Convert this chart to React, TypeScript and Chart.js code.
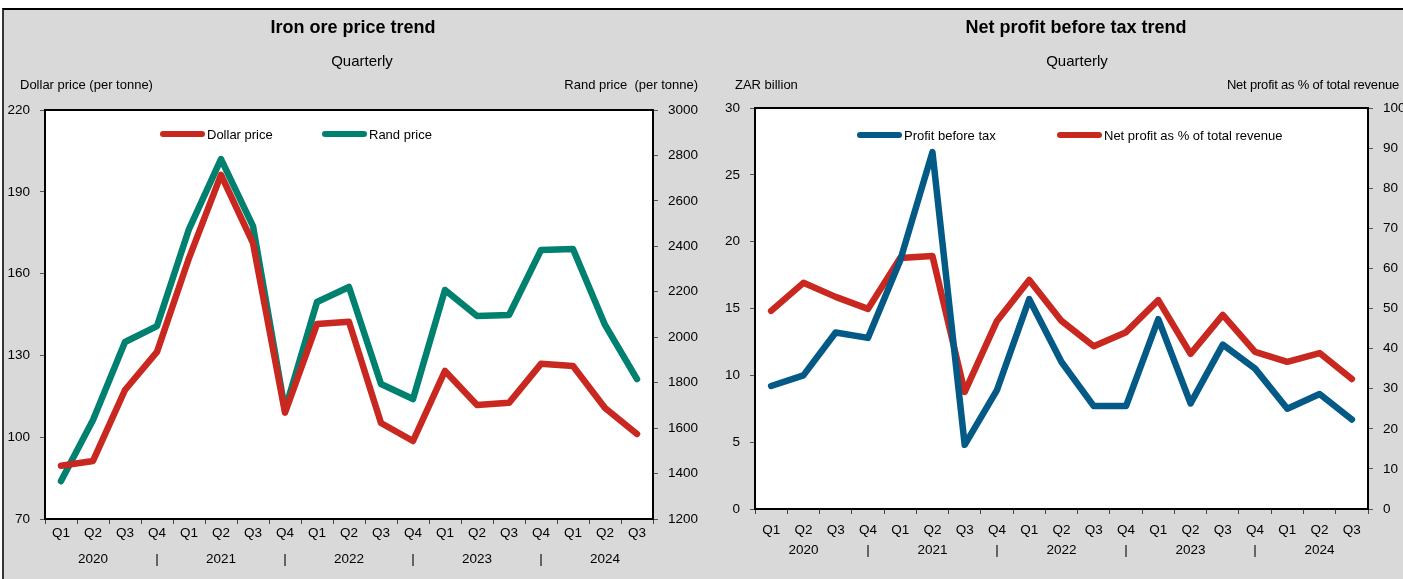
import React, { useEffect, useRef } from 'react';
import { Chart, registerables } from 'chart.js';
Chart.register(...registerables);

// ---- data ----
const quarterLabels = ['Q1', 'Q2', 'Q3', 'Q4', 'Q1', 'Q2', 'Q3', 'Q4', 'Q1', 'Q2', 'Q3', 'Q4', 'Q1', 'Q2', 'Q3', 'Q4', 'Q1', 'Q2', 'Q3'];
const yearLabels = ['', '2020', '', '|', '', '2021', '', '|', '', '2022', '', '|', '', '2023', '', '|', '', '2024', ''];

const dollarPrice = [89.5, 91.3, 117.3, 131.3, 165.7, 196.2, 171.2, 109, 141.5, 142.3, 105.2, 98.6, 124.3, 111.8, 112.6, 126.9, 126.1, 110.7, 101.2];
const randPrice = [1367, 1636, 1979, 2049, 2476, 2784, 2489, 1680, 2155, 2221, 1794, 1728, 2208, 2093, 2098, 2384, 2388, 2054, 1816];

const profitBeforeTax = [9.2, 10.0, 13.2, 12.8, 18.6, 26.7, 4.8, 8.9, 15.7, 11.0, 7.7, 7.7, 14.2, 7.9, 12.3, 10.5, 7.5, 8.6, 6.7];
const netProfitPct = [49.4, 56.4, 52.9, 49.9, 62.6, 63.1, 29.2, 46.9, 57.1, 46.9, 40.6, 44.1, 52.1, 38.7, 48.4, 39.2, 36.7, 38.9, 32.4];

const RED = '#C8281F';
const TEAL = '#00806F';
const BLUE = '#045A86';
const GRAY_BG = '#D9D9D9';
const FONT = '"Liberation Sans", Arial, sans-serif';

const frame = {
  id: 'frame',
  beforeDatasetsDraw(chart: any) {
    const { ctx, chartArea } = chart;
    const { left, top, right, bottom } = chartArea;
    ctx.save();
    ctx.fillStyle = '#ffffff';
    ctx.fillRect(left, top, right - left, bottom - top);
    ctx.restore();
  },
  afterDatasetsDraw(chart: any) {
    const { ctx, chartArea } = chart;
    const { left, top, right, bottom } = chartArea;
    ctx.save();
    ctx.strokeStyle = '#000000';
    ctx.lineWidth = 2;
    ctx.strokeRect(left, top, right - left, bottom - top);
    ctx.restore();
  },
};

type PanelCfg = {
  series: { label: string; data: number[]; color: string; axis: string }[];
  left: { min: number; max: number; step: number; width: number };
  right: { min: number; max: number; step: number; width: number };
  padTop: number;
  xHeight: number;
  xPad: number;
  xLineHeight: number;
};

function tickFont() {
  return { family: FONT, size: 13.5 };
}

function makeConfig(p: PanelCfg): any {
  const labels = quarterLabels.map((q, i) => [q, yearLabels[i]]);
  return {
    type: 'line',
    data: {
      labels,
      datasets: p.series.map((s) => ({
        label: s.label,
        data: s.data,
        borderColor: s.color,
        backgroundColor: s.color,
        borderWidth: 6.5,
        pointRadius: 0,
        tension: 0,
        borderCapStyle: 'round',
        borderJoinStyle: 'round',
        yAxisID: s.axis,
      })),
    },
    options: {
      responsive: false,
      animation: false,
      layout: { padding: { top: p.padTop, left: 0, right: 0, bottom: 0 } },
      plugins: { legend: { display: false }, tooltip: { enabled: false }, title: { display: false } },
      scales: {
        x: {
          type: 'category',
          offset: true,
          grid: { offset: true, drawOnChartArea: false, drawTicks: true, tickLength: 5, color: '#444', lineWidth: 1 },
          border: { display: false },
          ticks: {
            font: { family: FONT, size: 13.5, lineHeight: p.xLineHeight + 'px' },
            color: '#000',
            padding: p.xPad,
            maxRotation: 0,
            autoSkip: false,
          },
          afterFit: (scale: any) => { scale.height = p.xHeight; },
        },
        y: {
          position: 'left',
          min: p.left.min,
          max: p.left.max,
          ticks: { stepSize: p.left.step, font: tickFont(), color: '#000', padding: 10, callback: (v: any) => String(v) },
          grid: { drawOnChartArea: false, drawTicks: true, tickLength: 5, color: '#555' },
          border: { display: false },
          afterFit: (scale: any) => { scale.width = p.left.width; },
        },
        y1: {
          position: 'right',
          min: p.right.min,
          max: p.right.max,
          ticks: { stepSize: p.right.step, font: tickFont(), color: '#000', padding: 10, callback: (v: any) => String(v) },
          grid: { drawOnChartArea: false, drawTicks: true, tickLength: 5, color: '#555' },
          border: { display: false },
          afterFit: (scale: any) => { scale.width = p.right.width; },
        },
      },
    },
    plugins: [frame],
  };
}

function ChartPanel({ cfg, left, top, width, height }: { cfg: PanelCfg; left: number; top: number; width: number; height: number }) {
  const ref = useRef<HTMLCanvasElement>(null);
  useEffect(() => {
    if (!ref.current) return;
    const chart = new Chart(ref.current, makeConfig(cfg));
    return () => chart.destroy();
  }, []);
  return (
    <canvas
      ref={ref}
      width={width}
      height={height}
      style={{ position: 'absolute', left, top, width, height }}
    />
  );
}

function Text({ x, y, children, align = 'center', size = 13, bold = false, spacing = 0 }: any) {
  const tx = align === 'center' ? '-50%' : align === 'right' ? '-100%' : '0';
  return (
    <div
      style={{
        position: 'absolute',
        left: x,
        top: y,
        transform: `translate(${tx}, -50%)`,
        whiteSpace: 'nowrap',
        fontFamily: FONT,
        fontSize: size,
        fontWeight: bold ? 700 : 400,
        letterSpacing: spacing,
        color: '#000',
        lineHeight: 1,
      }}
    >
      {children}
    </div>
  );
}

function LegendItem({ x, y, color, label }: any) {
  return (
    <>
      <div
        style={{
          position: 'absolute',
          left: x,
          top: y - 3,
          width: 45,
          height: 6,
          borderRadius: 3,
          background: color,
        }}
      />
      <Text x={x + 47} y={y} align="left" size={13}>{label}</Text>
    </>
  );
}

const leftCfg: PanelCfg = {
  series: [
    { label: 'Dollar price', data: dollarPrice, color: RED, axis: 'y' },
    { label: 'Rand price', data: randPrice, color: TEAL, axis: 'y1' },
  ],
  left: { min: 70, max: 220, step: 30, width: 42 },
  right: { min: 1200, max: 3000, step: 200, width: 50 },
  padTop: 100,
  xHeight: 60,
  xPad: -4,
  xLineHeight: 26,
};

const rightCfg: PanelCfg = {
  series: [
    { label: 'Profit before tax', data: profitBeforeTax, color: BLUE, axis: 'y' },
    { label: 'Net profit as % of total revenue', data: netProfitPct, color: RED, axis: 'y1' },
  ],
  left: { min: 0, max: 30, step: 5, width: 52 },
  right: { min: 0, max: 100, step: 10, width: 35 },
  padTop: 98,
  xHeight: 70,
  xPad: 6,
  xLineHeight: 20,
};

export default function App() {
  return (
    <div style={{ position: 'absolute', left: 0, top: 0, width: 1403, height: 579, background: '#fff', overflow: 'hidden' }}>
      <div
        style={{
          position: 'absolute',
          left: 2,
          top: 8,
          width: 1410,
          height: 600,
          background: GRAY_BG,
          borderTop: '2px solid #000',
          borderLeft: '2px solid #333',
        }}
      />
      <ChartPanel cfg={leftCfg} left={3} top={10} width={700} height={569} />
      <ChartPanel cfg={rightCfg} left={703} top={10} width={700} height={569} />

      <Text x={353} y={27} size={18} bold>Iron ore price trend</Text>
      <Text x={362} y={60} size={15}>Quarterly</Text>
      <Text x={20} y={84} align="left" size={13}>Dollar price (per tonne)</Text>
      <Text x={698} y={84} align="right" size={13}>Rand price&nbsp; (per tonne)</Text>
      <LegendItem x={160} y={134} color={RED} label="Dollar price" />
      <LegendItem x={322} y={134} color={TEAL} label="Rand price" />

      <Text x={1076} y={27} size={18} bold>Net profit before tax trend</Text>
      <Text x={1077} y={60} size={15}>Quarterly</Text>
      <Text x={735} y={84} align="left" size={13}>ZAR billion</Text>
      <Text x={1399} y={84} align="right" size={13} spacing={-0.2}>Net profit as % of total revenue</Text>
      <LegendItem x={857} y={135} color={BLUE} label="Profit before tax" />
      <LegendItem x={1057} y={135} color={RED} label="Net profit as % of total revenue" />
    </div>
  );
}
